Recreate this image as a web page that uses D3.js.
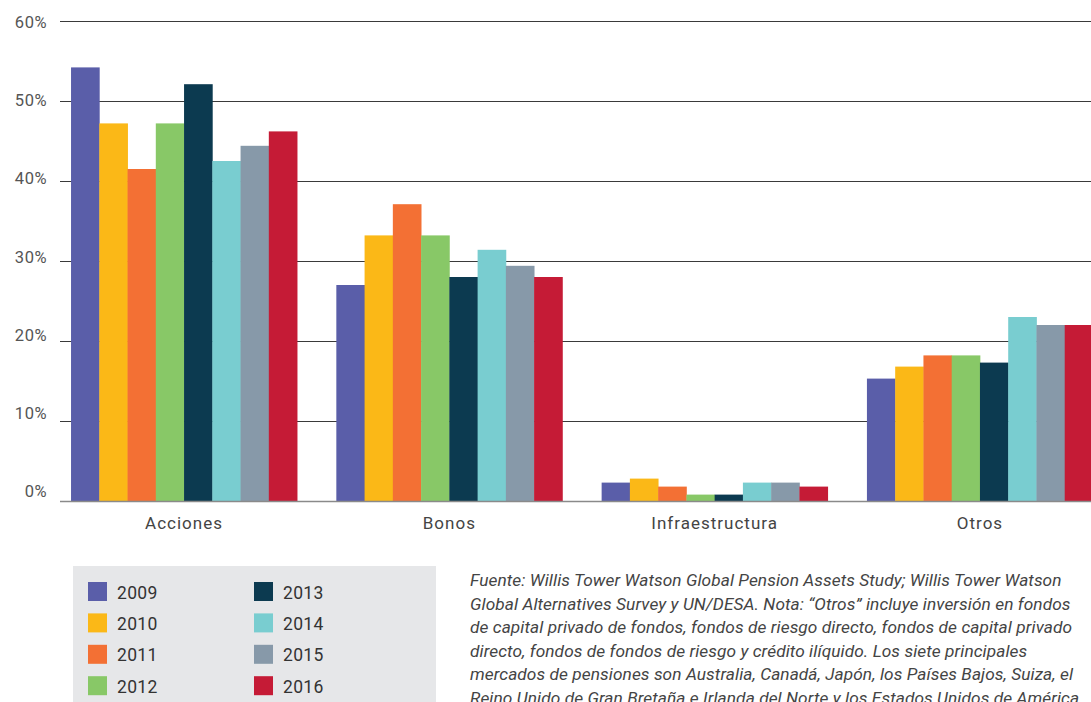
<!DOCTYPE html>
<html>
<head>
  <meta charset="utf-8">
  <script src="https://d3js.org/d3.v7.min.js"></script>
  <style>
    body { margin: 0; background: #fff; }
    svg text { font-family: Roboto, "DejaVu Sans", sans-serif; }
  </style>
</head>
<body>
<script>
  // categories and years
  var categories = ["Acciones", "Bonos", "Infraestructura", "Otros"];
  var years = ["2009", "2010", "2011", "2012", "2013", "2014", "2015", "2016"];
  var yearColors = ["#5a5ea9", "#fbb817", "#f37034", "#88c867", "#0c3a50", "#79cdd0", "#8799a9", "#c51b36"];

  // share by year, one array per category (percent)
  var acciones = [54.2, 47.2, 41.5, 47.2, 52.1, 42.5, 44.4, 46.2];
  var bonos = [27.0, 33.2, 37.1, 33.2, 28.0, 31.4, 29.4, 28.0];
  var infraestructura = [2.3, 2.8, 1.8, 0.8, 0.8, 2.3, 2.3, 1.8];
  var otros = [15.3, 16.8, 18.2, 18.2, 17.3, 23.0, 22.0, 22.0];

  var yTicks = [0, 10, 20, 30, 40, 50, 60];

  var footnote = [
    "Fuente: Willis Tower Watson Global Pension Assets Study; Willis Tower Watson",
    "Global Alternatives Survey y UN/DESA. Nota: \u201cOtros\u201d incluye inversión en fondos",
    "de capital privado de fondos, fondos de riesgo directo, fondos de capital privado",
    "directo, fondos de fondos de riesgo y crédito ilíquido. Los siete principales",
    "mercados de pensiones son Australia, Canadá, Japón, los Países Bajos, Suiza, el",
    "Reino Unido de Gran Bretaña e Irlanda del Norte y los Estados Unidos de América."
  ];

  var series = [acciones, bonos, infraestructura, otros];
  var data = [];
  categories.forEach(function(c, i) {
    years.forEach(function(y, j) {
      data.push({cat: c, year: y, value: series[i][j]});
    });
  });

  var W = 1091, H = 702;
  var svg = d3.select("body").append("svg")
      .attr("width", W).attr("height", H);

  var y = d3.scaleLinear().domain([0, 60]).range([501, 21]);
  // the tick labels in the original sit a little tighter than the gridlines
  var yLabel = d3.scaleLinear().domain([0, 60]).range([497, 28]);
  var x0 = d3.scaleBand().domain(categories)
      .range([51.4, 1112.6]).paddingInner(0.148).paddingOuter(0.074);
  var x1 = d3.scaleBand().domain(years).range([0, x0.bandwidth()]);
  var color = d3.scaleOrdinal().domain(years).range(yearColors);

  // gridlines
  svg.append("g").selectAll("line")
    .data(yTicks.filter(function(d) { return d > 0; }))
    .join("line")
      .attr("x1", 60).attr("x2", W)
      .attr("y1", function(d) { return y(d) + 0.5; })
      .attr("y2", function(d) { return y(d) + 0.5; })
      .attr("stroke", "#3a3a3a").attr("stroke-width", 1.2);

  // y tick labels
  svg.append("g").selectAll("text")
    .data(yTicks)
    .join("text")
      .attr("x", 47)
      .attr("y", function(d) { return yLabel(d); })
      .attr("text-anchor", "end")
      .attr("font-size", 16.5)
      .attr("letter-spacing", 0.5)
      .attr("fill", "#555")
      .text(function(d) { return d + "%"; });

  // bars
  svg.append("g").selectAll("rect")
    .data(data)
    .join("rect")
      .attr("x", function(d) { return x0(d.cat) + x1(d.year); })
      .attr("width", x1.bandwidth() + 0.4)
      .attr("y", function(d) { return y(d.value); })
      .attr("height", function(d) { return y(0) - y(d.value) + 1; })
      .attr("fill", function(d) { return color(d.year); });

  // baseline
  svg.append("line")
    .attr("x1", 60).attr("x2", W)
    .attr("y1", y(0) + 0.5).attr("y2", y(0) + 0.5)
    .attr("stroke", "#8a8a8a").attr("stroke-width", 1.6);

  // category labels
  svg.append("g").selectAll("text")
    .data(categories)
    .join("text")
      .attr("x", function(d) { return x0(d) + x0.bandwidth() / 2; })
      .attr("y", 529)
      .attr("text-anchor", "middle")
      .attr("font-size", 17)
      .attr("letter-spacing", 1)
      .attr("fill", "#444")
      .text(function(d) { return d; });

  // legend
  var legend = svg.append("g");
  legend.append("rect")
    .attr("x", 73).attr("y", 566).attr("width", 363).attr("height", 140)
    .attr("fill", "#e6e7e9");
  var item = legend.selectAll("g")
    .data(years)
    .join("g")
      .attr("transform", function(d, i) {
        return "translate(" + (i < 4 ? 88 : 254) + "," + (582 + (i % 4) * 31.4) + ")";
      });
  item.append("rect")
    .attr("width", 19).attr("height", 19)
    .attr("fill", function(d) { return color(d); });
  item.append("text")
    .attr("x", 29).attr("y", 16.5)
    .attr("font-size", 17.5)
    .attr("letter-spacing", 0.3)
    .attr("fill", "#333")
    .text(function(d) { return d; });

  // source note
  svg.append("g").selectAll("text")
    .data(footnote)
    .join("text")
      .attr("x", 470)
      .attr("y", function(d, i) { return 586 + i * 23.6; })
      .attr("font-size", 17.3)
      .attr("letter-spacing", 0.07)
      .attr("font-style", "italic")
      .attr("fill", "#444")
      .text(function(d) { return d; });
</script>
</body>
</html>
